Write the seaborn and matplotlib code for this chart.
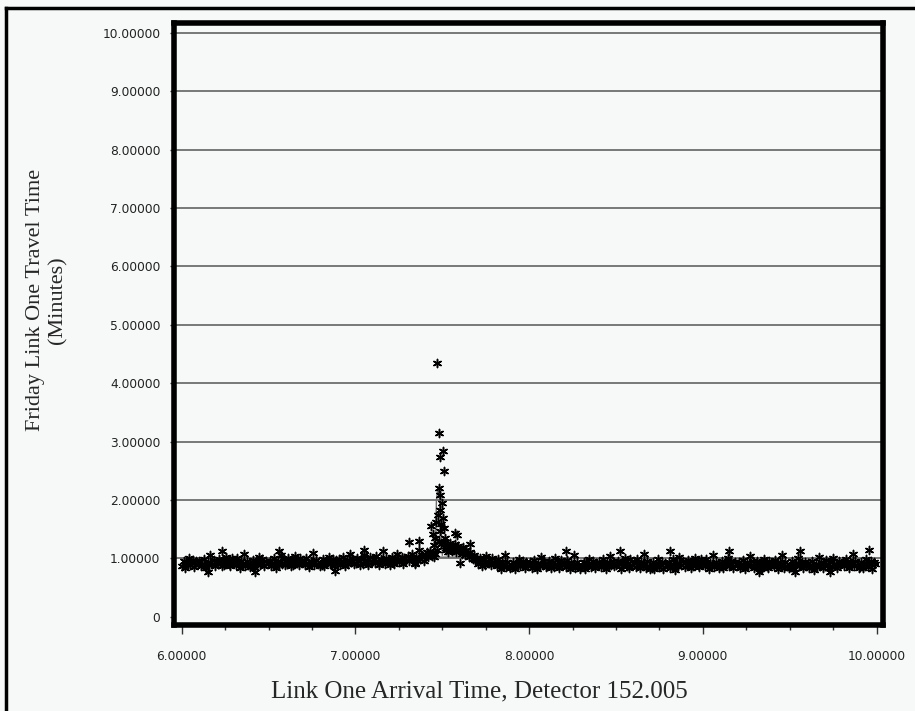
# =============================================================================
# FRIDAY LINK ONE TRAVEL TIME - SCATTER OF ARRIVALS
# =============================================================================

import pandas as pd
import seaborn as sns
import matplotlib.pyplot as plt
from matplotlib.lines import Line2D

# =============================================================================
# DATA
# =============================================================================

# arrival time (decimal hours) / travel time (minutes), normal traffic band
band_x = [
    6.004, 6.012, 6.019, 6.027, 6.035, 6.041, 6.050, 6.058, 6.066, 6.073, 6.082, 6.091,
    6.102, 6.109, 6.117, 6.126, 6.133, 6.142, 6.149, 6.157, 6.164, 6.174, 6.183, 6.194,
    6.206, 6.214, 6.221, 6.229, 6.238, 6.245, 6.253, 6.261, 6.270, 6.278, 6.287, 6.296,
    6.304, 6.312, 6.319, 6.327, 6.335, 6.341, 6.350, 6.358, 6.366, 6.373, 6.382, 6.391,
    6.402, 6.409, 6.417, 6.426, 6.433, 6.442, 6.449, 6.457, 6.464, 6.474, 6.483, 6.494,
    6.506, 6.514, 6.521, 6.529, 6.538, 6.545, 6.553, 6.561, 6.570, 6.578, 6.587, 6.596,
    6.604, 6.612, 6.619, 6.627, 6.635, 6.641, 6.650, 6.658, 6.666, 6.673, 6.682, 6.691,
    6.702, 6.709, 6.717, 6.726, 6.733, 6.742, 6.749, 6.757, 6.764, 6.774, 6.783, 6.794,
    6.806, 6.814, 6.821, 6.829, 6.838, 6.845, 6.853, 6.861, 6.870, 6.878, 6.887, 6.896,
    6.904, 6.912, 6.919, 6.927, 6.935, 6.941, 6.950, 6.958, 6.966, 6.973, 6.982, 6.991,
    7.002, 7.009, 7.017, 7.026, 7.033, 7.042, 7.049, 7.057, 7.064, 7.074, 7.083, 7.094,
    7.106, 7.114, 7.121, 7.129, 7.138, 7.145, 7.153, 7.161, 7.170, 7.178, 7.187, 7.196,
    7.204, 7.212, 7.219, 7.227, 7.235, 7.241, 7.250, 7.258, 7.266, 7.273, 7.282, 7.291,
    7.302, 7.309, 7.317, 7.326, 7.333, 7.342, 7.349, 7.357, 7.364, 7.374, 7.383, 7.394,
    7.402, 7.409, 7.417, 7.424, 7.431, 7.438, 7.446, 7.453,
    7.522, 7.528, 7.534, 7.541, 7.547, 7.553, 7.560, 7.566, 7.572, 7.579, 7.585, 7.592, 7.598,
    7.606, 7.613, 7.619, 7.626, 7.632, 7.639, 7.646, 7.652, 7.659, 7.667, 7.674, 7.682, 7.690, 7.697,
    7.706, 7.714, 7.721, 7.729, 7.738, 7.745, 7.753, 7.761, 7.770, 7.778, 7.787, 7.796,
    7.804, 7.812, 7.819, 7.827, 7.835, 7.841, 7.850, 7.858, 7.866, 7.873, 7.882, 7.891,
    7.902, 7.909, 7.917, 7.926, 7.933, 7.942, 7.949, 7.957, 7.964, 7.974, 7.983, 7.994,
    8.006, 8.014, 8.021, 8.029, 8.038, 8.045, 8.053, 8.061, 8.070, 8.078, 8.087, 8.096,
    8.104, 8.112, 8.119, 8.127, 8.135, 8.141, 8.150, 8.158, 8.166, 8.173, 8.182, 8.191,
    8.202, 8.209, 8.217, 8.226, 8.233, 8.242, 8.249, 8.257, 8.264, 8.274, 8.283, 8.294,
    8.306, 8.314, 8.321, 8.329, 8.338, 8.345, 8.353, 8.361, 8.370, 8.378, 8.387, 8.396,
    8.404, 8.412, 8.419, 8.427, 8.435, 8.441, 8.450, 8.458, 8.466, 8.473, 8.482, 8.491,
    8.502, 8.509, 8.517, 8.526, 8.533, 8.542, 8.549, 8.557, 8.564, 8.574, 8.583, 8.594,
    8.606, 8.614, 8.621, 8.629, 8.638, 8.645, 8.653, 8.661, 8.670, 8.678, 8.687, 8.696,
    8.704, 8.712, 8.719, 8.727, 8.735, 8.741, 8.750, 8.758, 8.766, 8.773, 8.782, 8.791,
    8.802, 8.809, 8.817, 8.826, 8.833, 8.842, 8.849, 8.857, 8.864, 8.874, 8.883, 8.894,
    8.906, 8.914, 8.921, 8.929, 8.938, 8.945, 8.953, 8.961, 8.970, 8.978, 8.987, 8.996,
    9.004, 9.012, 9.019, 9.027, 9.035, 9.041, 9.050, 9.058, 9.066, 9.073, 9.082, 9.091,
    9.102, 9.109, 9.117, 9.126, 9.133, 9.142, 9.149, 9.157, 9.164, 9.174, 9.183, 9.194,
    9.206, 9.214, 9.221, 9.229, 9.238, 9.245, 9.253, 9.261, 9.270, 9.278, 9.287, 9.296,
    9.304, 9.312, 9.319, 9.327, 9.335, 9.341, 9.350, 9.358, 9.366, 9.373, 9.382, 9.391,
    9.402, 9.409, 9.417, 9.426, 9.433, 9.442, 9.449, 9.457, 9.464, 9.474, 9.483, 9.494,
    9.506, 9.514, 9.521, 9.529, 9.538, 9.545, 9.553, 9.561, 9.570, 9.578, 9.587, 9.596,
    9.604, 9.612, 9.619, 9.627, 9.635, 9.641, 9.650, 9.658, 9.666, 9.673, 9.682, 9.691,
    9.702, 9.709, 9.717, 9.726, 9.733, 9.742, 9.749, 9.757, 9.764, 9.774, 9.783, 9.794,
    9.806, 9.814, 9.821, 9.829, 9.838, 9.845, 9.853, 9.861, 9.870, 9.878, 9.887, 9.896,
    9.904, 9.912, 9.919, 9.927, 9.935, 9.941, 9.950, 9.958, 9.966, 9.973, 9.982, 9.991,
]
band_y = [
    0.87, 0.96, 0.84, 0.94, 0.90, 1.01, 0.88, 0.92, 0.97, 0.85, 0.95, 0.91,
    0.95, 0.86, 0.91, 0.99, 0.89, 0.83, 0.94, 0.88, 1.05, 0.90, 0.97, 0.87,
    0.90, 0.99, 0.93, 0.86, 0.97, 0.88, 1.03, 0.94, 0.91, 0.87, 1.00, 0.92,
    0.94, 0.88, 1.00, 0.90, 0.84, 0.95, 0.92, 1.08, 0.87, 0.96, 0.89, 0.85,
    0.88, 0.97, 0.85, 0.95, 0.91, 1.02, 0.89, 0.93, 0.98, 0.86, 0.96, 0.92,
    0.96, 0.87, 0.92, 1.00, 0.90, 0.84, 0.95, 0.89, 1.06, 0.91, 0.98, 0.88,
    0.91, 1.00, 0.94, 0.87, 0.98, 0.89, 1.04, 0.95, 0.92, 0.88, 1.01, 0.93,
    0.95, 0.89, 1.01, 0.91, 0.85, 0.96, 0.93, 1.09, 0.88, 0.97, 0.90, 0.86,
    0.89, 0.98, 0.86, 0.96, 0.92, 1.03, 0.90, 0.94, 0.99, 0.87, 0.97, 0.93,
    0.98, 0.89, 0.94, 1.02, 0.92, 0.86, 0.97, 0.91, 1.08, 0.93, 1.00, 0.90,
    0.92, 1.01, 0.95, 0.88, 0.99, 0.90, 1.05, 0.96, 0.93, 0.89, 1.02, 0.94,
    0.98, 0.92, 1.04, 0.94, 0.88, 0.99, 0.96, 1.12, 0.91, 1.00, 0.93, 0.89,
    0.93, 1.02, 0.90, 1.00, 0.96, 1.07, 0.94, 0.98, 1.03, 0.91, 1.01, 0.97,
    1.04, 0.95, 1.00, 1.08, 0.98, 0.92, 1.03, 0.97, 1.14, 0.99, 1.06, 0.96,
    1.05, 1.10, 1.02, 1.08, 1.12, 1.04, 1.09, 1.03,
    1.14, 1.22, 1.10, 1.18, 1.26, 1.12, 1.20, 1.15, 1.24, 1.11, 1.17, 1.21, 1.13,
    1.16, 1.08, 1.19, 1.12, 1.05, 1.14, 1.09, 1.02, 1.10, 1.04, 0.98, 1.06, 0.97, 1.01,
    0.91, 1.00, 0.94, 0.87, 0.98, 0.89, 1.04, 0.95, 0.92, 0.88, 1.01, 0.93,
    0.92, 0.86, 0.98, 0.88, 0.82, 0.93, 0.90, 1.06, 0.85, 0.94, 0.87, 0.83,
    0.85, 0.94, 0.82, 0.92, 0.88, 0.99, 0.86, 0.90, 0.95, 0.83, 0.93, 0.89,
    0.93, 0.84, 0.89, 0.97, 0.87, 0.81, 0.92, 0.86, 1.03, 0.88, 0.95, 0.85,
    0.87, 0.96, 0.90, 0.83, 0.94, 0.85, 1.00, 0.91, 0.88, 0.84, 0.97, 0.89,
    0.91, 0.85, 0.97, 0.87, 0.81, 0.92, 0.89, 1.05, 0.84, 0.93, 0.86, 0.82,
    0.86, 0.94, 0.81, 0.93, 0.88, 0.98, 0.85, 0.91, 0.96, 0.83, 0.92, 0.89,
    0.94, 0.85, 0.90, 0.98, 0.88, 0.82, 0.93, 0.87, 1.04, 0.89, 0.96, 0.86,
    0.88, 0.95, 0.90, 0.82, 0.94, 0.86, 1.01, 0.91, 0.87, 0.84, 0.98, 0.89,
    0.92, 0.85, 0.99, 0.88, 0.83, 0.93, 0.90, 1.07, 0.84, 0.95, 0.87, 0.82,
    0.84, 0.93, 0.81, 0.91, 0.87, 0.98, 0.85, 0.89, 0.94, 0.82, 0.92, 0.88,
    0.93, 0.83, 0.89, 0.98, 0.87, 0.80, 0.92, 0.86, 1.02, 0.88, 0.96, 0.85,
    0.88, 0.97, 0.91, 0.84, 0.95, 0.86, 1.01, 0.92, 0.89, 0.85, 0.98, 0.90,
    0.93, 0.86, 0.98, 0.89, 0.82, 0.92, 0.90, 1.05, 0.85, 0.94, 0.88, 0.83,
    0.86, 0.95, 0.83, 0.93, 0.89, 1.00, 0.87, 0.91, 0.96, 0.84, 0.94, 0.90,
    0.94, 0.84, 0.89, 0.97, 0.86, 0.81, 0.93, 0.86, 1.04, 0.88, 0.95, 0.84,
    0.86, 0.95, 0.89, 0.82, 0.93, 0.84, 0.99, 0.90, 0.87, 0.83, 0.96, 0.88,
    0.91, 0.86, 0.97, 0.88, 0.82, 0.94, 0.90, 1.06, 0.84, 0.93, 0.87, 0.83,
    0.85, 0.95, 0.82, 0.91, 0.88, 1.00, 0.86, 0.90, 0.94, 0.83, 0.93, 0.88,
    0.92, 0.83, 0.88, 0.96, 0.86, 0.80, 0.91, 0.85, 1.02, 0.87, 0.94, 0.84,
    0.87, 0.97, 0.90, 0.83, 0.93, 0.85, 1.01, 0.91, 0.88, 0.84, 0.96, 0.90,
    0.93, 0.87, 0.99, 0.89, 0.83, 0.94, 0.91, 1.07, 0.86, 0.95, 0.88, 0.84,
    0.85, 0.94, 0.83, 0.92, 0.87, 0.99, 0.86, 0.91, 0.95, 0.82, 0.93, 0.90,
]

# stray points above / below the band
stray_x = [6.150, 6.420, 6.880, 9.320, 9.530, 9.730, 7.603, 9.955,
           6.230, 6.560, 7.050, 8.210, 8.520, 8.810, 9.150, 9.560,
           7.306, 7.364, 7.345]
stray_y = [0.76, 0.77, 0.78, 0.77, 0.77, 0.77, 0.92, 1.14,
           1.12, 1.13, 1.14, 1.12, 1.13, 1.12, 1.13, 1.12,
           1.28, 1.29, 0.90]

# the incident spike around 7.5
spike_x = [7.471, 7.479, 7.504, 7.489, 7.510, 7.483, 7.489, 7.498, 7.489, 7.504,
           7.437, 7.508, 7.444, 7.575, 7.586, 7.460, 7.517, 7.485, 7.661,
           7.452, 7.466, 7.475, 7.493, 7.512, 7.520, 7.455, 7.478, 7.495, 7.468]
spike_y = [4.35, 3.15, 2.83, 2.73, 2.49, 2.21, 2.09, 1.95, 1.83, 1.69,
           1.56, 1.52, 1.42, 1.43, 1.40, 1.35, 1.35, 1.47, 1.25,
           1.22, 1.62, 1.75, 1.58, 1.28, 1.18, 1.08, 1.30, 1.25, 1.15]

# thin trace drawn through the spike
line_x = [7.594, 7.460, 7.466, 7.474, 7.482, 7.492, 7.500]
line_y = [1.02, 1.02, 2.00, 2.18, 2.10, 1.60, 1.05]

x_ticks = [6, 7, 8, 9, 10]
x_minor = [6.25, 6.5, 6.75, 7.25, 7.5, 7.75, 8.25, 8.5, 8.75, 9.25, 9.5, 9.75]
x_tick_labels = ["6.00000", "7.00000", "8.00000", "9.00000", "10.00000"]
y_ticks = [0, 1, 2, 3, 4, 5, 6, 7, 8, 9, 10]
y_tick_labels = ["0", "1.00000", "2.00000", "3.00000", "4.00000", "5.00000",
                 "6.00000", "7.00000", "8.00000", "9.00000", "10.00000"]

df = pd.DataFrame({
    "arrival": band_x + stray_x + spike_x,
    "travel": band_y + stray_y + spike_y,
})

# =============================================================================
# PLOT
# =============================================================================

sns.set_style("white")
plt.rcParams["font.family"] = ["DejaVu Sans"]

bg = "#f6f9f7"
fig = plt.figure(figsize=(9.15, 7.11), dpi=100, facecolor=bg)
ax = fig.add_axes([0.1904, 0.1203, 0.7746, 0.8474])
ax.set_facecolor(bg)

# horizontal grid lines (none at zero)
for yv in y_ticks[1:]:
    ax.axhline(yv, color="#555555", linewidth=1.1, zorder=1)

sns.lineplot(x=line_x, y=line_y, sort=False, estimator=None,
             color="#6e6e6e", linewidth=1, ax=ax, zorder=2)

sns.scatterplot(data=df, x="arrival", y="travel", marker=(6, 2, 0),
                s=34, color="black", linewidth=1.1, ax=ax, zorder=3)

ax.set_xlim(5.9568, 10.0363)
ax.set_ylim(-0.151, 10.171)

ax.set_xticks(x_ticks)
ax.set_xticklabels(x_tick_labels)
ax.set_xticks(x_minor, minor=True)
ax.set_yticks(y_ticks)
ax.set_yticklabels(y_tick_labels)

ax.tick_params(axis="x", which="major", bottom=True, length=6.8, width=1,
               color="#333333", pad=11, labelsize=8.8, labelcolor="#222222")
ax.tick_params(axis="x", which="minor", bottom=True, length=3.5, width=1,
               color="#333333")
ax.tick_params(axis="y", left=True, length=3, width=1, color="#333333",
               pad=7, labelsize=8.8, labelcolor="#222222")

for s in ax.spines.values():
    s.set_visible(True)
    s.set_linewidth(4)
    s.set_color("black")

ax.set_xlabel("")
ax.set_ylabel("")

# axis titles sit left of centre in the original
fig.text(479 / 915, 1 - 691 / 711, "Link One Arrival Time, Detector 152.005",
         fontfamily="Liberation Serif", fontsize=18, ha="center", va="center")
fig.text(47 / 915, 1 - 300 / 711, "Friday Link One Travel Time\n(Minutes)",
         fontfamily="Liberation Serif", fontsize=16, ha="center", va="center",
         rotation=90, multialignment="center", linespacing=1.25)

# outer border of the picture (top and left)
yb = 1 - 8 / 711
xb = 6 / 915
fig.add_artist(Line2D([xb, xb], [0, yb], transform=fig.transFigure,
                      color="black", linewidth=2.5, solid_capstyle="projecting"))
fig.add_artist(Line2D([xb, 1], [yb, yb], transform=fig.transFigure,
                      color="black", linewidth=2.5, solid_capstyle="projecting"))

fig.savefig("out.png", dpi=100, facecolor=bg)
